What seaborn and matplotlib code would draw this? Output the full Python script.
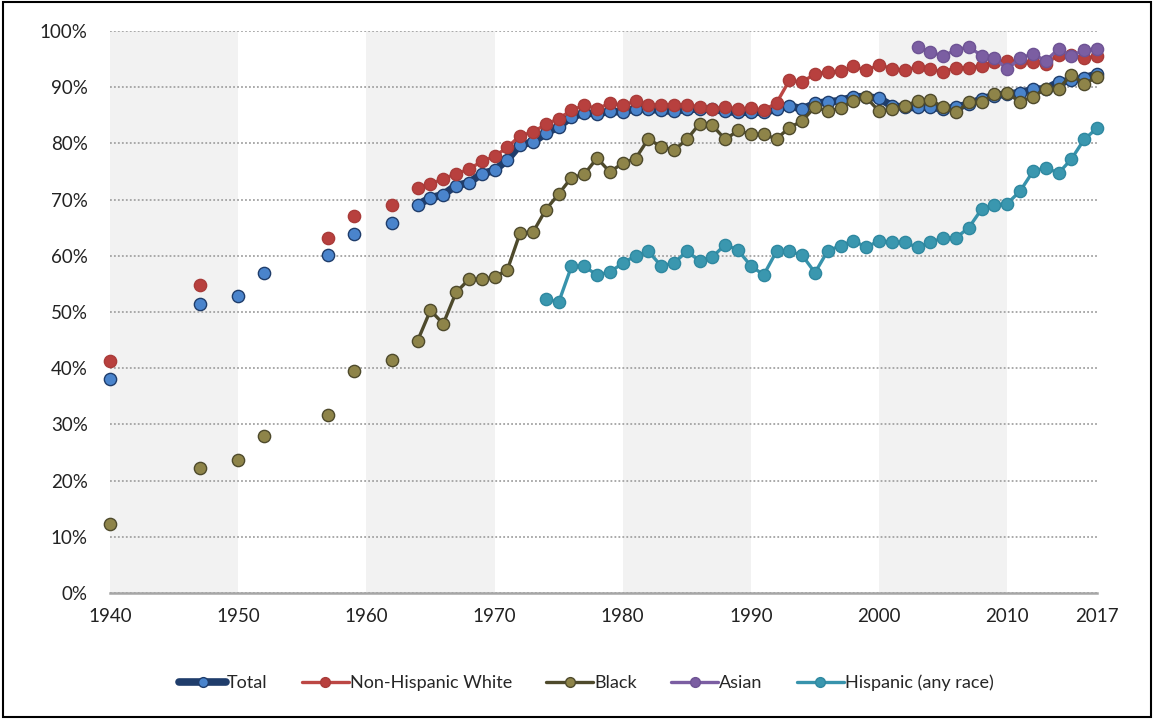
"""
Porcentaje de personas de 25 a 29 anos con secundaria completa,
por raza / origen hispano, 1940-2017.
"""

import matplotlib.pyplot as plt
import matplotlib.ticker as mticker
import numpy as np
import seaborn as sns
from matplotlib.patches import Rectangle

# --- datos (porcentaje) ---
EARLY_YEARS = [1940, 1947, 1950, 1952, 1957, 1959, 1962]
early_total = [38.1, 51.4, 52.8, 57.0, 60.2, 63.8, 65.9]
early_white = [41.2, 54.8, np.nan, np.nan, 63.1, 67.1, 69.1]
early_black = [12.3, 22.3, 23.6, 28.0, 31.6, 39.5, 41.5]

YEARS = list(range(1964, 2018))
total = [
    69.1, 70.3, 70.9, 72.5, 73.0, 74.6, 75.2, 77.1, 79.8, 80.2,
    81.8, 83.0, 84.7, 85.4, 85.3, 85.7, 85.6, 86.2, 86.1, 85.9,
    85.7, 86.1, 86.1, 86.1, 85.7, 85.5, 85.6, 85.5, 86.1, 86.7,
    86.1, 87.1, 87.4, 87.6, 88.3, 88.3, 88.0, 86.7, 86.4, 86.4,
    86.5, 86.1, 86.4, 87.0, 87.9, 88.5, 88.8, 89.0, 89.6, 89.7,
    90.9, 91.2, 91.6, 92.4,
]
white = [
    72.1, 72.8, 73.7, 74.6, 75.4, 76.8, 77.7, 79.3, 81.4, 82.0,
    83.4, 84.4, 85.9, 86.8, 86.2, 87.1, 86.8, 87.5, 86.9, 86.9,
    86.9, 86.9, 86.5, 86.2, 86.5, 86.1, 86.3, 85.9, 87.2, 91.2,
    90.9, 92.4, 92.7, 92.8, 93.7, 93.0, 94.0, 93.3, 93.0, 93.6,
    93.2, 92.7, 93.5, 93.5, 93.8, 94.5, 94.6, 94.4, 94.5, 94.2,
    95.7, 95.7, 95.2, 95.5,
]
black = [
    44.9, 50.3, 47.9, 53.5, 55.8, 55.8, 56.2, 57.5, 64.1, 64.2,
    68.2, 71.0, 73.9, 74.5, 77.4, 74.9, 76.5, 77.3, 80.8, 79.4,
    78.8, 80.7, 83.5, 83.2, 80.7, 82.3, 81.6, 81.6, 80.8, 82.8,
    84.0, 86.5, 85.7, 86.3, 87.6, 88.2, 85.7, 86.1, 86.6, 87.6,
    87.8, 86.4, 85.5, 87.3, 87.3, 88.8, 88.9, 87.4, 88.3, 89.7,
    89.7, 92.2, 90.6, 91.8,
]

ASIAN_YEARS = list(range(2003, 2018))
asian = [
    97.2, 96.2, 95.6, 96.6, 97.2, 95.6, 95.2, 93.2, 95.2, 95.9,
    94.7, 96.8, 95.6, 96.6, 96.8,
]

HISP_YEARS = list(range(1974, 2018))
hispanic = [
    52.4, 51.7, 58.1, 58.1, 56.6, 57.1, 58.7, 60.0, 60.8, 58.2,
    58.7, 60.8, 59.1, 59.8, 62.0, 61.0, 58.2, 56.6, 60.8, 60.8,
    60.1, 57.0, 60.9, 61.8, 62.7, 61.5, 62.7, 62.4, 62.4, 61.5,
    62.4, 63.2, 63.2, 65.0, 68.3, 69.0, 69.3, 71.5, 75.0, 75.7,
    74.7, 77.2, 80.7, 82.7,
]

X_TICKS = [1940, 1950, 1960, 1970, 1980, 1990, 2000, 2010, 2017]
BANDS = [(1940, 1950), (1960, 1970), (1980, 1990), (2000, 2010)]

# nombre, linea, relleno marcador, borde marcador, grosor linea
SERIES = [
    ("Total", "#1F3D6B", "#4A84CC", "#1F3D6B", 5.5),
    ("Non-Hispanic White", "#BC4744", "#B8403E", "#A93B39", 2.4),
    ("Black", "#4E4A2C", "#8E8449", "#4E4A2C", 2.4),
    ("Asian", "#7B5EA2", "#7B5EA2", "#6E5394", 2.4),
    ("Hispanic (any race)", "#3793AC", "#3A97AF", "#2F88A0", 2.4),
]


def main():
    sns.set_style("white")
    plt.rcParams["font.family"] = ["Lato", "DejaVu Sans"]

    fig = plt.figure(figsize=(11.54, 7.19), dpi=100)
    ax = fig.add_axes([0.0953, 0.1752, 0.8553, 0.7817])

    for inicio, fin in BANDS:
        ax.axvspan(inicio, fin, color="#F2F2F2", zorder=0, lw=0)

    datos = [
        (YEARS, total, EARLY_YEARS, early_total),
        (YEARS, white, EARLY_YEARS, early_white),
        (YEARS, black, EARLY_YEARS, early_black),
        (ASIAN_YEARS, asian, None, None),
        (HISP_YEARS, hispanic, None, None),
    ]

    for i, ((nombre, linea, cara, borde, grosor), (xs, ys, ex, ey)) in \
            enumerate(zip(SERIES, datos)):
        sns.lineplot(
            x=xs, y=ys, ax=ax, color=linea, linewidth=grosor,
            marker="o", markersize=8.8, markerfacecolor=cara,
            markeredgecolor=borde, markeredgewidth=1.0,
            label=nombre, zorder=3 + i, clip_on=False,
        )
        if ex is not None:
            sns.scatterplot(
                x=ex, y=ey, ax=ax, s=78, color=cara, edgecolor=borde,
                linewidth=1.0, zorder=3 + i, clip_on=False, legend=False,
            )

    ax.set_xlim(1940, 2017)
    ax.set_ylim(0, 100)
    ax.set_xticks(X_TICKS)
    ax.set_yticks(range(0, 101, 10))
    ax.yaxis.set_major_formatter(mticker.FuncFormatter(
        lambda v, _: f"{v:.0f}%"))
    ax.set_xlabel("")
    ax.set_ylabel("")

    ax.set_axisbelow(True)
    ax.yaxis.grid(True, linestyle=(0, (1, 1.2)), color="#A3A3A3", lw=1.3)
    ax.xaxis.grid(False)

    for lado in ["left", "right", "top"]:
        ax.spines[lado].set_visible(False)
    ax.spines["bottom"].set_color("#A6A6A6")
    ax.spines["bottom"].set_linewidth(1.8)

    ax.tick_params(axis="both", length=0, labelsize=13.5,
                   labelcolor="#222222")
    ax.tick_params(axis="y", pad=16)
    ax.tick_params(axis="x", pad=11)

    handles, labels = ax.get_legend_handles_labels()
    ax.legend_.remove()
    fig.legend(
        handles, labels, loc="center", bbox_to_anchor=(0.508, 0.05),
        ncol=5, frameon=False, fontsize=13, handlelength=2.6,
        handletextpad=0.05, columnspacing=1.9, markerscale=0.8,
    )

    fig.patches.append(Rectangle(
        (0.003, 0.003), 0.994, 0.994, transform=fig.transFigure,
        fill=False, edgecolor="black", linewidth=1.5,
    ))

    fig.savefig("out.png", dpi=100)
    plt.close(fig)


if __name__ == "__main__":
    main()
